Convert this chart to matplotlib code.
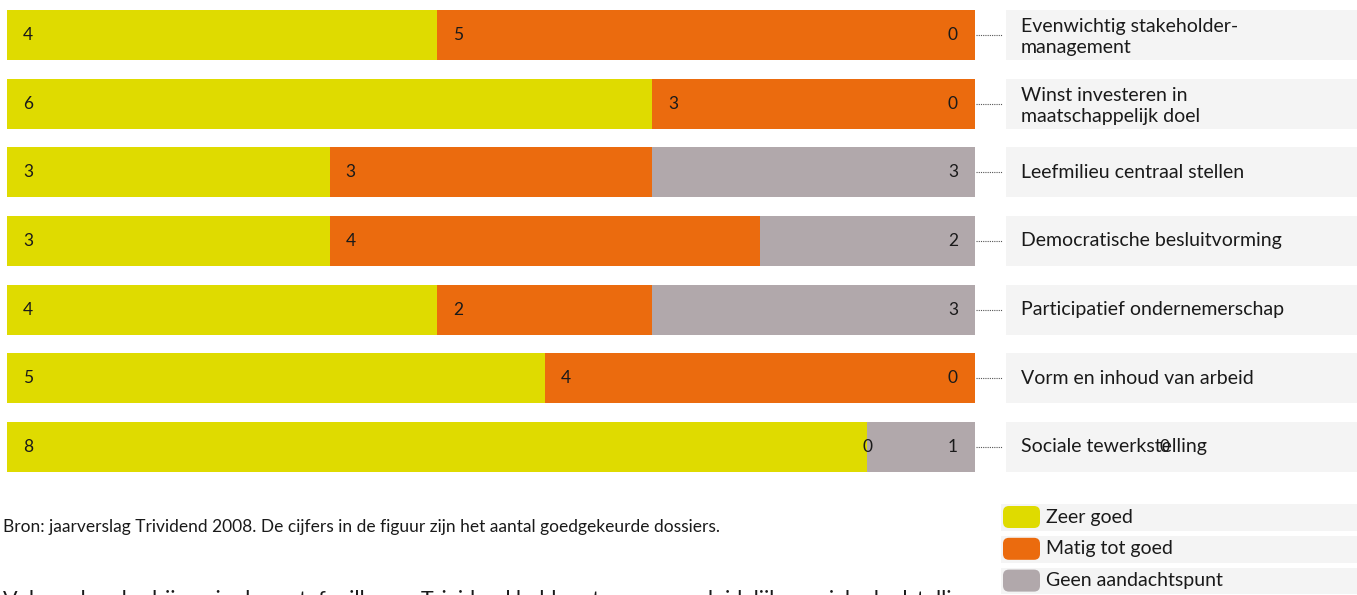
import numpy as np
import matplotlib.pyplot as plt
from matplotlib.patches import FancyBboxPatch, Rectangle

plt.rcParams['font.family'] = ['Lato', 'DejaVu Sans']

categories = ['Evenwichtig stakeholder-\nmanagement',
              'Winst investeren in\nmaatschappelijk doel',
              'Leefmilieu centraal stellen',
              'Democratische besluitvorming',
              'Participatief ondernemerschap',
              'Vorm en inhoud van arbeid',
              'Sociale tewerkstelling']
zeer_goed = [4, 6, 3, 3, 4, 5, 8]
matig_tot_goed = [5, 3, 3, 4, 2, 4, 0]
geen_aandacht = [0, 0, 3, 2, 3, 0, 1]
series_names = ['Zeer goed', 'Matig tot goed', 'Geen aandachtspunt']
colors = ['#dfdb00', '#eb6b0e', '#b1a8ab']
box_color = '#f4f4f4'

W, H = 1357, 595
fig = plt.figure(figsize=(W / 100, H / 100), dpi=100)


def frac(x0, y0, x1, y1):
    # pixel box -> figure fraction [left, bottom, width, height]
    return [x0 / W, 1 - y1 / H, (x1 - x0) / W, (y1 - y0) / H]


top_px, bot_px = 0.67, 481.3
ax = fig.add_axes(frac(7, top_px, 975, bot_px))
lab = fig.add_axes(frac(1006, top_px, 1357, bot_px))

n = len(categories)
y = np.arange(n)
h = 0.728
data = [zeer_goed, matig_tot_goed, geen_aandacht]
left = np.zeros(n)
px = 9 / 968.0  # data units per pixel
for s, (vals, c) in enumerate(zip(data, colors)):
    vals = np.array(vals, dtype=float)
    ax.barh(y, vals, left=left, height=h, color=c, linewidth=0)
    for i in range(n):
        v = int(vals[i])
        if s == 2:
            ax.text(left[i] + vals[i] - 17 * px, y[i], str(v), ha='right',
                    va='center', fontsize=12.5, color='#1a1a1a')
        elif s == 1 and v == 0 and left[i] + vals[i] < 9:
            ax.text(left[i], y[i], str(v), ha='center', va='center',
                    fontsize=12.5, color='#1a1a1a')
        else:
            ax.text(left[i] + 16 * px, y[i], str(v), ha='left', va='center',
                    fontsize=12.5, color='#1a1a1a')
    left += vals

ax.set_xlim(0, 9)
ax.set_ylim(n - 0.5, -0.5)
ax.axis('off')

# leader lines
for i in range(n):
    ax.plot([9.0 + 1 * px, 9.0 + 27 * px], [y[i], y[i]], color='#555555',
            lw=0.8, ls=(0, (1, 1)), clip_on=False)

# category label boxes
lab.barh(y, np.ones(n), height=h, color=box_color, linewidth=0)
for i, cat in enumerate(categories):
    off = 0.03 if '\n' in cat else 0.0
    lab.text(15 / 351, y[i] + off, cat, ha='left', va='center', fontsize=14,
             color='#1a1a1a', linespacing=1.3)
# stray label visible in the source
lab.text(159 / 351, y[-1], '0', ha='center', va='center', fontsize=12.5,
         color='#1a1a1a')
lab.set_xlim(0, 1)
lab.set_ylim(n - 0.5, -0.5)
lab.axis('off')

fig.text(3 / W, 1 - 527 / H,
         'Bron: jaarverslag Trividend 2008. De cijfers in de figuur zijn het '
         'aantal goedgekeurde dossiers.',
         ha='left', va='center', fontsize=12.5, color='#1a1a1a')

fig.text(3 / W, 1 - 589.5 / H,
         'Vele andere bedrijven in de portefeuille van Trividend hebben tevens '
         'een duidelijke sociale doelstelling',
         ha='left', va='top', fontsize=15.5, color='#1a1a1a')

# legend
leg = fig.add_axes(frac(1001, 504, 1357, 595))
leg.set_xlim(0, 356)
leg.set_ylim(91, 0)
leg.axis('off')
for k, (name, c) in enumerate(zip(series_names, colors)):
    y0 = k * 31.8
    leg.add_patch(Rectangle((0, y0), 356, 26.7, color=box_color, lw=0))
    leg.add_patch(FancyBboxPatch((2, y0 + 2), 37, 22,
                                 boxstyle='round,pad=0,rounding_size=6',
                                 color=c, lw=0))
    leg.text(45, y0 + 13, name, ha='left', va='center', fontsize=14,
             color='#1a1a1a')

fig.savefig('out.png', dpi=100)
